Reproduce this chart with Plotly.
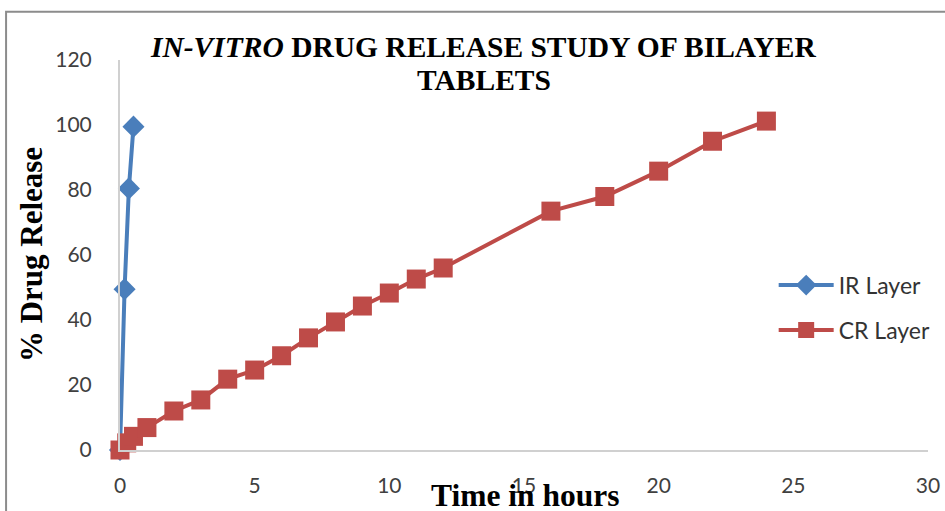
import plotly.graph_objects as go

# Release profiles (time in hours, cumulative % drug released)
ir_time = [0, 0.17, 0.33, 0.5]
ir_release = [0, 49.5, 80.5, 99.5]

cr_time = [0, 0.25, 0.5, 1, 2, 3, 4, 5, 6, 7, 8, 9, 10, 11, 12, 16, 18, 20, 22, 24]
cr_release = [0, 2.2, 4.2, 6.9, 12.0, 15.4, 21.8, 24.6, 29.0, 34.5, 39.4, 44.3,
              48.3, 52.6, 56.0, 73.5, 78.0, 85.8, 95.0, 101.2]

x_ticks = [0, 5, 10, 15, 20, 25, 30]
y_ticks = [0, 20, 40, 60, 80, 100, 120]

BLUE = "#4A7EBB"
RED = "#BE4B48"
SANS = "Lato, Open Sans, sans-serif"
SERIF = "Liberation Serif, Times New Roman, serif"
TICK_FONT = dict(family=SANS, size=21, color="#404040")

fig = go.Figure()
fig.add_trace(go.Scatter(
    x=ir_time, y=ir_release, name="IR Layer", mode="lines+markers",
    line=dict(color=BLUE, width=4),
    marker=dict(symbol="diamond", size=17, color=BLUE),
    cliponaxis=False, legendgroup="ir",
))
fig.add_trace(go.Scatter(
    x=cr_time, y=cr_release, name="CR Layer", mode="lines+markers",
    line=dict(color=RED, width=4),
    marker=dict(symbol="square", size=19, color=RED),
    cliponaxis=False, legendgroup="cr",
))

fig.update_layout(
    width=945, height=511,
    margin=dict(l=120, r=17, t=60, b=61, autoexpand=False),
    paper_bgcolor="white", plot_bgcolor="white",
    showlegend=True,
    legend=dict(
        x=0.809, y=0.478, xanchor="left", yanchor="top",
        font=dict(family=SANS, size=23, color="#333333"),
        tracegroupgap=12, itemwidth=55, bgcolor="rgba(0,0,0,0)",
    ),
    xaxis=dict(
        range=[0, 30], tickvals=x_ticks, showgrid=False, zeroline=False,
        showline=True, linecolor="#D0D0D0", linewidth=2, automargin=False,
        ticks="", tickfont=TICK_FONT, ticklabelstandoff=16,
    ),
    yaxis=dict(
        range=[0, 120], tickvals=y_ticks, showgrid=False, zeroline=False,
        showline=True, linecolor="#D0D0D0", linewidth=2, automargin=False,
        ticks="", tickfont=TICK_FONT, ticklabelstandoff=22,
    ),
    annotations=[
        dict(
            text="<b><i>IN-VITRO</i> DRUG RELEASE STUDY OF BILAYER</b>",
            xref="paper", yref="paper", x=0.449, y=1.034,
            xanchor="center", yanchor="middle", showarrow=False,
            font=dict(family=SERIF, size=29.5, color="black"),
        ),
        dict(
            text="<b>TABLETS</b>",
            xref="paper", yref="paper", x=0.451, y=0.949,
            xanchor="center", yanchor="middle", showarrow=False,
            font=dict(family=SERIF, size=29.5, color="black"),
        ),
        dict(
            text="<b>% Drug Release</b>", textangle=-90,
            xref="paper", yref="paper", x=-0.11, y=0.5,
            xanchor="center", yanchor="middle", showarrow=False,
            font=dict(family=SERIF, size=31, color="black"),
        ),
        dict(
            text="<b>Time in hours</b>",
            xref="paper", yref="paper", x=0.501, y=-0.116,
            xanchor="center", yanchor="middle", showarrow=False,
            font=dict(family=SERIF, size=31.5, color="black"),
        ),
    ],
    shapes=[
        dict(type="rect", xref="paper", yref="paper",
             x0=-0.141, x1=1.05, y0=-0.2, y1=1.124,
             line=dict(color="#8C8C8C", width=2), fillcolor="rgba(0,0,0,0)",
             layer="below"),
    ],
)

fig.write_html("out.html")
